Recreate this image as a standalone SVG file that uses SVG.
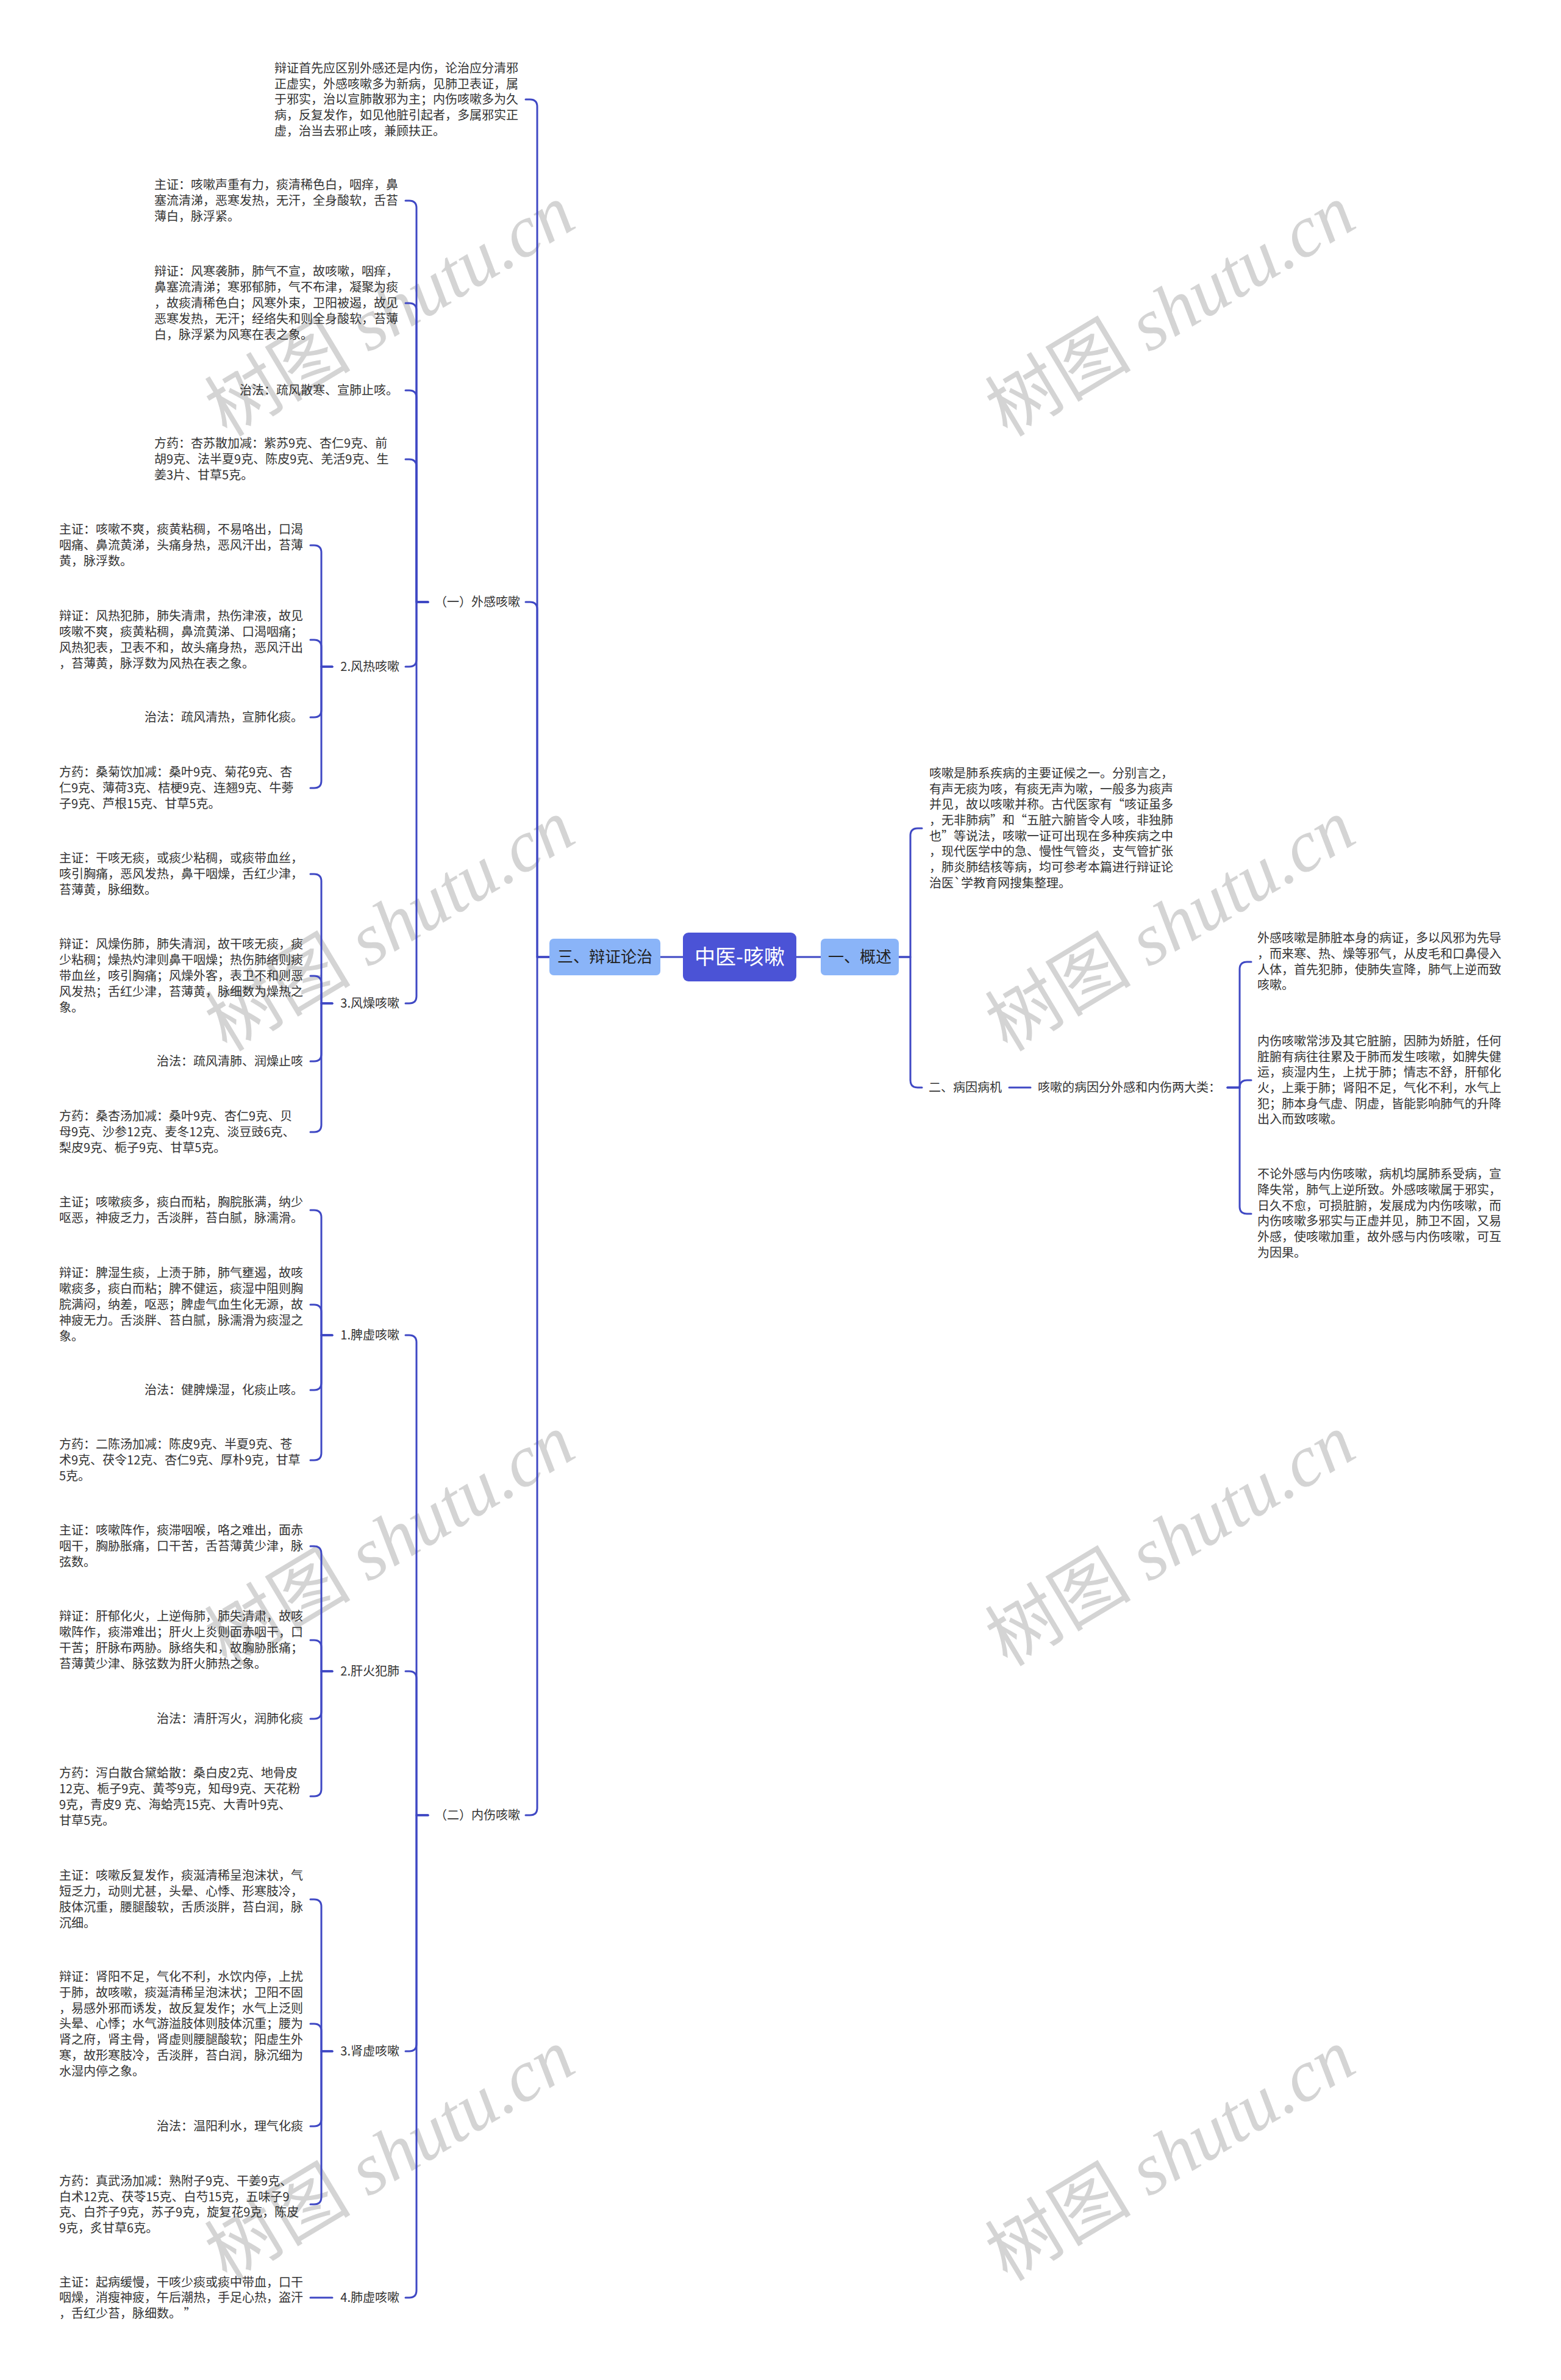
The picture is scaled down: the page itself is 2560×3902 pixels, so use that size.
<svg xmlns="http://www.w3.org/2000/svg" width="2560" height="3902" viewBox="0 0 2560 3902">
<style>
.t{font-family:"Noto Sans CJK SC","Noto Sans",sans-serif;font-size:20px;fill:#333}
.e{text-anchor:end}
.c{fill:none;stroke:#3f48c4;stroke-width:3;stroke-linecap:round;stroke-linejoin:round}
.wm{font-size:120px;fill:#d4d4d4;text-anchor:middle}
.wm1{font-family:"Noto Sans CJK SC",sans-serif}
.wm2{font-family:"Liberation Serif",serif;font-style:italic}
.box{fill:#8ab4f8}
.bt{font-family:"Noto Sans CJK SC","Noto Sans",sans-serif;font-size:26px;fill:#222;text-anchor:middle}
</style>
<rect width="2560" height="3902" fill="#fff"/>
<g id="watermarks">
<g transform="translate(640,510) rotate(-31)"><text class="wm" y="40"><tspan class="wm1">树图</tspan><tspan class="wm2"> shutu.cn</tspan></text></g>
<g transform="translate(1920,510) rotate(-31)"><text class="wm" y="40"><tspan class="wm1">树图</tspan><tspan class="wm2"> shutu.cn</tspan></text></g>
<g transform="translate(640,1518) rotate(-31)"><text class="wm" y="40"><tspan class="wm1">树图</tspan><tspan class="wm2"> shutu.cn</tspan></text></g>
<g transform="translate(1920,1518) rotate(-31)"><text class="wm" y="40"><tspan class="wm1">树图</tspan><tspan class="wm2"> shutu.cn</tspan></text></g>
<g transform="translate(640,2526) rotate(-31)"><text class="wm" y="40"><tspan class="wm1">树图</tspan><tspan class="wm2"> shutu.cn</tspan></text></g>
<g transform="translate(1920,2526) rotate(-31)"><text class="wm" y="40"><tspan class="wm1">树图</tspan><tspan class="wm2"> shutu.cn</tspan></text></g>
<g transform="translate(640,3534) rotate(-31)"><text class="wm" y="40"><tspan class="wm1">树图</tspan><tspan class="wm2"> shutu.cn</tspan></text></g>
<g transform="translate(1920,3534) rotate(-31)"><text class="wm" y="40"><tspan class="wm1">树图</tspan><tspan class="wm2"> shutu.cn</tspan></text></g>
</g>
<g id="connectors">
<path class="c" d="M1120 1569H1083"/>
<path class="c" d="M1306 1569H1346"/>
<path class="c" d="M901 1569H881V175Q881 163 869 163H862"/>
<path class="c" d="M901 1569H881V999Q881 987 869 987H862"/>
<path class="c" d="M901 1569H881V2964Q881 2976 869 2976H862"/>
<path class="c" d="M702 987H683V341Q683 329 671 329H665"/>
<path class="c" d="M702 987H683V509Q683 497 671 497H665"/>
<path class="c" d="M702 987H683V652Q683 640 671 640H665"/>
<path class="c" d="M702 987H683V765Q683 753 671 753H665"/>
<path class="c" d="M702 987H683V1081Q683 1093 671 1093H665"/>
<path class="c" d="M702 987H683V1633Q683 1645 671 1645H665"/>
<path class="c" d="M545 1093H527V906Q527 894 515 894H509"/>
<path class="c" d="M545 1093H527V1061Q527 1049 515 1049H509"/>
<path class="c" d="M545 1093H527V1164Q527 1176 515 1176H509"/>
<path class="c" d="M545 1093H527V1280Q527 1292 515 1292H509"/>
<path class="c" d="M545 1645H527V1445Q527 1433 515 1433H509"/>
<path class="c" d="M545 1645H527V1612Q527 1600 515 1600H509"/>
<path class="c" d="M545 1645H527V1728Q527 1740 515 1740H509"/>
<path class="c" d="M545 1645H527V1844Q527 1856 515 1856H509"/>
<path class="c" d="M702 2976H683V2201Q683 2189 671 2189H665"/>
<path class="c" d="M702 2976H683V2752Q683 2740 671 2740H665"/>
<path class="c" d="M702 2976H683V3351Q683 3363 671 3363H665"/>
<path class="c" d="M702 2976H683V3755Q683 3767 671 3767H665"/>
<path class="c" d="M545 2189H527V1996Q527 1984 515 1984H509"/>
<path class="c" d="M545 2189H527V2151Q527 2139 515 2139H509"/>
<path class="c" d="M545 2189H527V2267Q527 2279 515 2279H509"/>
<path class="c" d="M545 2189H527V2382Q527 2394 515 2394H509"/>
<path class="c" d="M545 2740H527V2547Q527 2535 515 2535H509"/>
<path class="c" d="M545 2740H527V2701Q527 2689 515 2689H509"/>
<path class="c" d="M545 2740H527V2806Q527 2818 515 2818H509"/>
<path class="c" d="M545 2740H527V2933Q527 2945 515 2945H509"/>
<path class="c" d="M545 3363H527V3126Q527 3114 515 3114H509"/>
<path class="c" d="M545 3363H527V3330Q527 3318 515 3318H509"/>
<path class="c" d="M545 3363H527V3474Q527 3486 515 3486H509"/>
<path class="c" d="M545 3363H527V3602Q527 3614 515 3614H509"/>
<path class="c" d="M545 3767H509"/>
<path class="c" d="M1474 1569H1493V1370Q1493 1358 1505 1358H1512"/>
<path class="c" d="M1474 1569H1493V1771Q1493 1783 1505 1783H1512"/>
<path class="c" d="M1655 1783H1690"/>
<path class="c" d="M2013 1783H2033V1589Q2033 1577 2045 1577H2052"/>
<path class="c" d="M2013 1783H2033Q2033 1771 2045 1771H2052"/>
<path class="c" d="M2013 1783H2033V1978Q2033 1990 2045 1990H2052"/>
</g>
<g id="root">
<rect x="1120" y="1529" width="186" height="80" rx="9" fill="#4b53d6"/>
<text x="1213" y="1581" font-family="Noto Sans CJK SC, Noto Sans, sans-serif" font-size="34" fill="#fff" text-anchor="middle">中医-咳嗽</text>
</g>
<g id="n-bianzheng">
<rect class="box" x="901" y="1539" width="182" height="60" rx="7"/>
<text class="bt" x="992" y="1578">三、辩证论治</text>
</g>
<g id="n-gaishu">
<rect class="box" x="1346" y="1539" width="128" height="60" rx="7"/>
<text class="bt" x="1410" y="1578">一、概述</text>
</g>
<g id="n-top">
<text class="t"><tspan x="450" y="119">辩证首先应区别外感还是内伤，论治应分清邪</tspan><tspan x="450" y="145">正虚实，外感咳嗽多为新病，见肺卫表证，属</tspan><tspan x="450" y="170">于邪实，治以宣肺散邪为主；内伤咳嗽多为久</tspan><tspan x="450" y="196">病，反复发作，如见他脏引起者，多属邪实正</tspan><tspan x="450" y="222">虚，治当去邪止咳，兼顾扶正。</tspan></text>
</g>
<g id="n-waigan"><text class="t e" x="853" y="994">（一）外感咳嗽</text></g>
<g id="n-fh-zz">
<text class="t"><tspan x="253" y="310">主证：咳嗽声重有力，痰清稀色白，咽痒，鼻</tspan><tspan x="253" y="336">塞流清涕，恶寒发热，无汗，全身酸软，舌苔</tspan><tspan x="253" y="362">薄白，脉浮紧。</tspan></text>
</g>
<g id="n-fh-bz">
<text class="t"><tspan x="253" y="452">辩证：风寒袭肺，肺气不宣，故咳嗽，咽痒，</tspan><tspan x="253" y="478">鼻塞流清涕；寒邪郁肺，气不布津，凝聚为痰</tspan><tspan x="253" y="504">，故痰清稀色白；风寒外束，卫阳被遏，故见</tspan><tspan x="253" y="530">恶寒发热，无汗；经络失和则全身酸软，苔薄</tspan><tspan x="253" y="556">白，脉浮紧为风寒在表之象。</tspan></text>
</g>
<g id="n-fh-zf"><text class="t e" x="653" y="647">治法：疏风散寒、宣肺止咳。</text></g>
<g id="n-fh-fy">
<text class="t"><tspan x="253" y="734">方药：杏苏散加减：紫苏9克、杏仁9克、前</tspan><tspan x="253" y="760">胡9克、法半夏9克、陈皮9克、羌活9克、生</tspan><tspan x="253" y="786">姜3片、甘草5克。</tspan></text>
</g>
<g id="n-fengre"><text class="t e" x="655" y="1100">2.风热咳嗽</text></g>
<g id="n-fr-zz">
<text class="t"><tspan x="97" y="875">主证：咳嗽不爽，痰黄粘稠，不易咯出，口渴</tspan><tspan x="97" y="901">咽痛、鼻流黄涕，头痛身热，恶风汗出，苔薄</tspan><tspan x="97" y="927">黄，脉浮数。</tspan></text>
</g>
<g id="n-fr-bz">
<text class="t"><tspan x="97" y="1017">辩证：风热犯肺，肺失清肃，热伤津液，故见</tspan><tspan x="97" y="1043">咳嗽不爽，痰黄粘稠，鼻流黄涕、口渴咽痛；</tspan><tspan x="97" y="1069">风热犯表，卫表不和，故头痛身热，恶风汗出</tspan><tspan x="97" y="1095">，苔薄黄，脉浮数为风热在表之象。</tspan></text>
</g>
<g id="n-fr-zf"><text class="t e" x="497" y="1183">治法：疏风清热，宣肺化痰。</text></g>
<g id="n-fr-fy">
<text class="t"><tspan x="97" y="1273">方药：桑菊饮加减：桑叶9克、菊花9克、杏</tspan><tspan x="97" y="1299">仁9克、薄荷3克、桔梗9克、连翘9克、牛蒡</tspan><tspan x="97" y="1325">子9克、芦根15克、甘草5克。</tspan></text>
</g>
<g id="n-fengzao"><text class="t e" x="655" y="1652">3.风燥咳嗽</text></g>
<g id="n-fz-zz">
<text class="t"><tspan x="97" y="1414">主证：干咳无痰，或痰少粘稠，或痰带血丝，</tspan><tspan x="97" y="1440">咳引胸痛，恶风发热，鼻干咽燥，舌红少津，</tspan><tspan x="97" y="1466">苔薄黄，脉细数。</tspan></text>
</g>
<g id="n-fz-bz">
<text class="t"><tspan x="97" y="1555">辩证：风燥伤肺，肺失清润，故干咳无痰，痰</tspan><tspan x="97" y="1581">少粘稠；燥热灼津则鼻干咽燥；热伤肺络则痰</tspan><tspan x="97" y="1607">带血丝，咳引胸痛；风燥外客，表卫不和则恶</tspan><tspan x="97" y="1633">风发热；舌红少津，苔薄黄，脉细数为燥热之</tspan><tspan x="97" y="1659">象。</tspan></text>
</g>
<g id="n-fz-zf"><text class="t e" x="497" y="1747">治法：疏风清肺、润燥止咳</text></g>
<g id="n-fz-fy">
<text class="t"><tspan x="97" y="1837">方药：桑杏汤加减：桑叶9克、杏仁9克、贝</tspan><tspan x="97" y="1863">母9克、沙参12克、麦冬12克、淡豆豉6克、</tspan><tspan x="97" y="1889">梨皮9克、栀子9克、甘草5克。</tspan></text>
</g>
<g id="n-neishang"><text class="t e" x="853" y="2983">（二）内伤咳嗽</text></g>
<g id="n-pixu"><text class="t e" x="655" y="2196">1.脾虚咳嗽</text></g>
<g id="n-px-zz">
<text class="t"><tspan x="97" y="1978">主证；咳嗽痰多，痰白而粘，胸脘胀满，纳少</tspan><tspan x="97" y="2004">呕恶，神疲乏力，舌淡胖，苔白腻，脉濡滑。</tspan></text>
</g>
<g id="n-px-bz">
<text class="t"><tspan x="97" y="2094">辩证：脾湿生痰，上渍于肺，肺气壅遏，故咳</tspan><tspan x="97" y="2120">嗽痰多，痰白而粘；脾不健运，痰湿中阻则胸</tspan><tspan x="97" y="2146">脘满闷，纳差，呕恶；脾虚气血生化无源，故</tspan><tspan x="97" y="2172">神疲无力。舌淡胖、苔白腻，脉濡滑为痰湿之</tspan><tspan x="97" y="2198">象。</tspan></text>
</g>
<g id="n-px-zf"><text class="t e" x="497" y="2286">治法：健脾燥湿，化痰止咳。</text></g>
<g id="n-px-fy">
<text class="t"><tspan x="97" y="2375">方药：二陈汤加减：陈皮9克、半夏9克、苍</tspan><tspan x="97" y="2401">术9克、茯令12克、杏仁9克、厚朴9克，甘草</tspan><tspan x="97" y="2427">5克。</tspan></text>
</g>
<g id="n-ganhuo"><text class="t e" x="655" y="2747">2.肝火犯肺</text></g>
<g id="n-gh-zz">
<text class="t"><tspan x="97" y="2516">主证：咳嗽阵作，痰滞咽喉，咯之难出，面赤</tspan><tspan x="97" y="2542">咽干，胸胁胀痛，口干苦，舌苔薄黄少津，脉</tspan><tspan x="97" y="2568">弦数。</tspan></text>
</g>
<g id="n-gh-bz">
<text class="t"><tspan x="97" y="2657">辩证：肝郁化火，上逆侮肺，肺失清肃，故咳</tspan><tspan x="97" y="2683">嗽阵作，痰滞难出；肝火上炎则面赤咽干，口</tspan><tspan x="97" y="2709">干苦；肝脉布两胁。脉络失和，故胸胁胀痛；</tspan><tspan x="97" y="2735">苔薄黄少津、脉弦数为肝火肺热之象。</tspan></text>
</g>
<g id="n-gh-zf"><text class="t e" x="497" y="2825">治法：清肝泻火，润肺化痰</text></g>
<g id="n-gh-fy">
<text class="t"><tspan x="97" y="2914">方药：泻白散合黛蛤散：桑白皮2克、地骨皮</tspan><tspan x="97" y="2940">12克、栀子9克、黄芩9克，知母9克、天花粉</tspan><tspan x="97" y="2966">9克，青皮9 克、海蛤壳15克、大青叶9克、</tspan><tspan x="97" y="2992">甘草5克。</tspan></text>
</g>
<g id="n-shenxu"><text class="t e" x="655" y="3370">3.肾虚咳嗽</text></g>
<g id="n-sx-zz">
<text class="t"><tspan x="97" y="3082">主证：咳嗽反复发作，痰涎清稀呈泡沫状，气</tspan><tspan x="97" y="3108">短乏力，动则尤甚，头晕、心悸、形寒肢冷，</tspan><tspan x="97" y="3134">肢体沉重，腰腿酸软，舌质淡胖，苔白润，脉</tspan><tspan x="97" y="3160">沉细。</tspan></text>
</g>
<g id="n-sx-bz">
<text class="t"><tspan x="97" y="3248">辩证：肾阳不足，气化不利，水饮内停，上扰</tspan><tspan x="97" y="3274">于肺，故咳嗽，痰涎清稀呈泡沫状；卫阳不固</tspan><tspan x="97" y="3300">，易感外邪而诱发，故反复发作；水气上泛则</tspan><tspan x="97" y="3325">头晕、心悸；水气游溢肢体则肢体沉重；腰为</tspan><tspan x="97" y="3351">肾之府，肾主骨，肾虚则腰腿酸软；阳虚生外</tspan><tspan x="97" y="3377">寒，故形寒肢冷，舌淡胖，苔白润，脉沉细为</tspan><tspan x="97" y="3403">水湿内停之象。</tspan></text>
</g>
<g id="n-sx-zf"><text class="t e" x="497" y="3493">治法：温阳利水，理气化痰</text></g>
<g id="n-sx-fy">
<text class="t"><tspan x="97" y="3583">方药：真武汤加减：熟附子9克、干姜9克、</tspan><tspan x="97" y="3609">白术12克、茯苓15克、白芍15克，五味子9</tspan><tspan x="97" y="3634">克、白芥子9克，苏子9克，旋复花9克，陈皮</tspan><tspan x="97" y="3660">9克，炙甘草6克。</tspan></text>
</g>
<g id="n-feixu"><text class="t e" x="655" y="3774">4.肺虚咳嗽</text></g>
<g id="n-fx-zz">
<text class="t"><tspan x="97" y="3749">主证：起病缓慢，干咳少痰或痰中带血，口干</tspan><tspan x="97" y="3774">咽燥，消瘦神疲，午后潮热，手足心热，盗汗</tspan><tspan x="97" y="3800">，舌红少苔，脉细数。 ”</tspan></text>
</g>
<g id="n-gs-text">
<text class="t"><tspan x="1524" y="1275">咳嗽是肺系疾病的主要证候之一。分别言之，</tspan><tspan x="1524" y="1301">有声无痰为咳，有痰无声为嗽，一般多为痰声</tspan><tspan x="1524" y="1326">并见，故以咳嗽并称。古代医家有“咳证虽多</tspan><tspan x="1524" y="1352">，无非肺病”和“五脏六腑皆令人咳，非独肺</tspan><tspan x="1524" y="1378">也”等说法，咳嗽一证可出现在多种疾病之中</tspan><tspan x="1524" y="1403">，现代医学中的急、慢性气管炎，支气管扩张</tspan><tspan x="1524" y="1429">，肺炎肺结核等病，均可参考本篇进行辩证论</tspan><tspan x="1524" y="1455">治医`学教育网搜集整理。</tspan></text>
</g>
<g id="n-bingyin"><text class="t" x="1523" y="1790">二、病因病机</text></g>
<g id="n-liangda"><text class="t" x="1702" y="1790">咳嗽的病因分外感和内伤两大类：</text></g>
<g id="n-by-a">
<text class="t"><tspan x="2062" y="1545">外感咳嗽是肺脏本身的病证，多以风邪为先导</tspan><tspan x="2062" y="1571">，而来寒、热、燥等邪气，从皮毛和口鼻侵入</tspan><tspan x="2062" y="1597">人体，首先犯肺，使肺失宣降，肺气上逆而致</tspan><tspan x="2062" y="1622">咳嗽。</tspan></text>
</g>
<g id="n-by-b">
<text class="t"><tspan x="2062" y="1714">内伤咳嗽常涉及其它脏腑，因肺为娇脏，任何</tspan><tspan x="2062" y="1740">脏腑有病往往累及于肺而发生咳嗽，如脾失健</tspan><tspan x="2062" y="1765">运，痰湿内生，上扰于肺；情志不舒，肝郁化</tspan><tspan x="2062" y="1791">火，上乘于肺；肾阳不足，气化不利，水气上</tspan><tspan x="2062" y="1817">犯；肺本身气虚、阴虚，皆能影响肺气的升降</tspan><tspan x="2062" y="1842">出入而致咳嗽。</tspan></text>
</g>
<g id="n-by-c">
<text class="t"><tspan x="2062" y="1932">不论外感与内伤咳嗽，病机均属肺系受病，宣</tspan><tspan x="2062" y="1958">降失常，肺气上逆所致。外感咳嗽属于邪实，</tspan><tspan x="2062" y="1984">日久不愈，可损脏腑，发展成为内伤咳嗽，而</tspan><tspan x="2062" y="2009">内伤咳嗽多邪实与正虚并见，肺卫不固，又易</tspan><tspan x="2062" y="2035">外感，使咳嗽加重，故外感与内伤咳嗽，可互</tspan><tspan x="2062" y="2061">为因果。</tspan></text>
</g>
</svg>
